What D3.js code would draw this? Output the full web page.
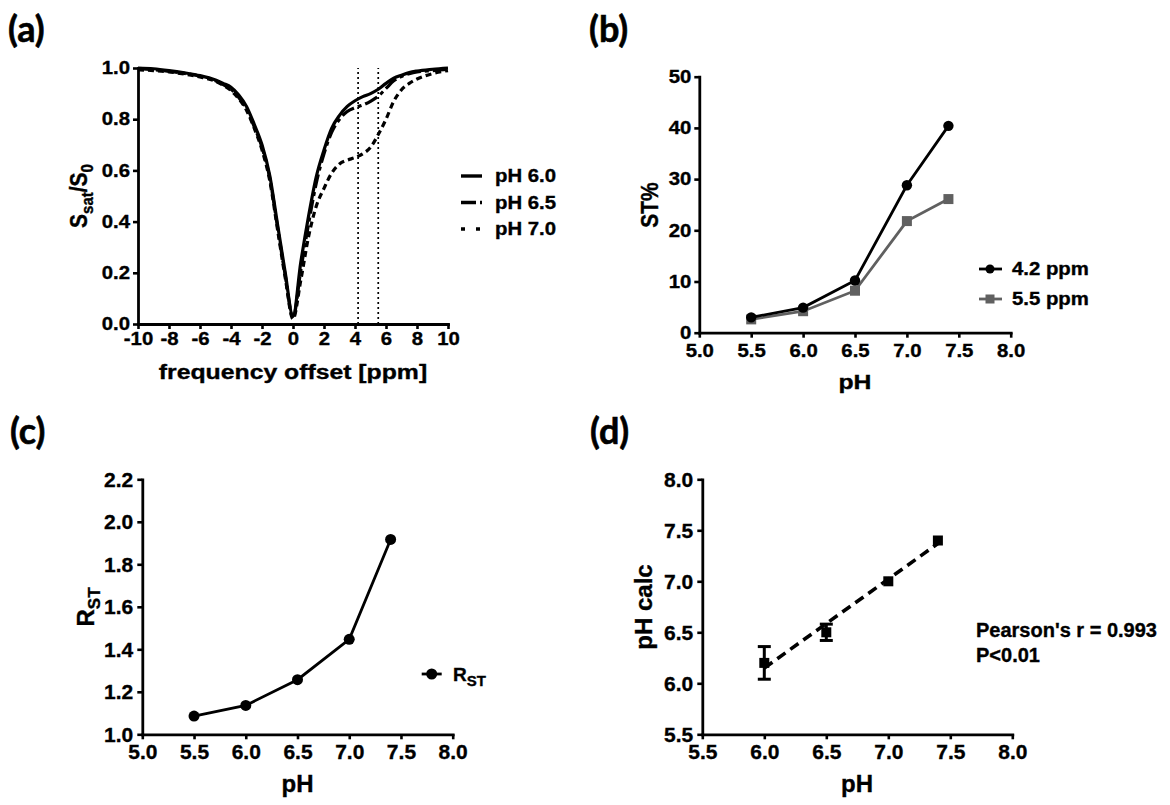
<!DOCTYPE html>
<html>
<head>
<meta charset="utf-8">
<script src="https://cdn.jsdelivr.net/npm/d3@7"></script>
<style>
  html, body { margin: 0; padding: 0; background: #fff; }
  text { paint-order: stroke; stroke: #000; stroke-width: 0.35px; }
</style>
</head>
<body>
<div id="chart"></div>
<script>
// ---------- data ----------

// (a) Z-spectra, S_sat/S_0 vs frequency offset [ppm]
const zOffset = [-10, -9, -8, -7, -6, -5, -4.5, -4, -3.5, -3, -2.5, -2, -1.5, -1, -0.5, 0,
  0.5, 1, 1.5, 2, 2.5, 3, 3.5, 4, 4.5, 5, 5.5, 6, 6.5, 7, 7.5, 8, 9, 10];
const zPH60 = [1.0, 0.997, 0.99, 0.981, 0.97, 0.953, 0.94, 0.925, 0.895, 0.85, 0.78, 0.70, 0.58, 0.39, 0.20, 0.03,
  0.24, 0.42, 0.575, 0.68, 0.765, 0.815, 0.85, 0.872, 0.888, 0.90, 0.917, 0.94, 0.96, 0.972, 0.982, 0.988, 0.995, 1.0];
const zPH65 = [0.997, 0.993, 0.987, 0.979, 0.968, 0.95, 0.935, 0.917, 0.885, 0.84, 0.77, 0.69, 0.57, 0.38, 0.19, 0.025,
  0.21, 0.39, 0.55, 0.665, 0.75, 0.80, 0.83, 0.845, 0.855, 0.87, 0.89, 0.92, 0.95, 0.967, 0.978, 0.985, 0.99, 0.995];
const zPH70 = [0.993, 0.99, 0.985, 0.976, 0.965, 0.948, 0.932, 0.912, 0.88, 0.835, 0.765, 0.68, 0.56, 0.37, 0.18, 0.02,
  0.17, 0.34, 0.46, 0.53, 0.59, 0.625, 0.64, 0.65, 0.665, 0.69, 0.74, 0.80, 0.87, 0.915, 0.94, 0.957, 0.978, 0.99];
const zLabels = ["pH 6.0", "pH 6.5", "pH 7.0"];
const markLines = [4.2, 5.5];

// (b) ST% vs pH
const bPH = [5.5, 6.0, 6.5, 7.0, 7.4];
const st42 = [3.0, 4.9, 10.2, 28.8, 40.4];
const st55 = [2.6, 4.2, 8.2, 21.8, 26.1];
const bLabels = ["4.2 ppm", "5.5 ppm"];

// (c) R_ST vs pH
const cPH = [5.5, 6.0, 6.5, 7.0, 7.4];
const rst = [1.086, 1.136, 1.257, 1.447, 1.917];

// (d) calculated pH vs pH
const dPH = [6.0, 6.5, 7.0, 7.4];
const dCalc = [6.2, 6.5, 7.0, 7.4];
const dErr = [0.16, 0.08, 0.01, 0.02];
const fitEnds = [[6.0, 6.15], [7.4, 7.37]];
const statText = ["Pearson's r = 0.993", "P<0.01"];

// tick values
const aXTicks = [-10, -8, -6, -4, -2, 0, 2, 4, 6, 8, 10];
const aYTicks = [0, 0.2, 0.4, 0.6, 0.8, 1.0];
const phTicks = [5.0, 5.5, 6.0, 6.5, 7.0, 7.5, 8.0];
const bYTicks = [0, 10, 20, 30, 40, 50];
const cYTicks = [1.0, 1.2, 1.4, 1.6, 1.8, 2.0, 2.2];
const dXTicks = [5.5, 6.0, 6.5, 7.0, 7.5, 8.0];
const dYTicks = [5.5, 6.0, 6.5, 7.0, 7.5, 8.0];

// ---------- setup ----------

const FONT = "'Liberation Sans', Arial, sans-serif";
const GRAY = "#606060";
const TOP_S = 1.13; // top row text is drawn a bit wider than tall

const svg = d3.select("#chart").append("svg")
  .attr("width", 1170).attr("height", 805)
  .style("background", "#fff");

const f1 = d3.format(".1f");
const plain = (d) => String(d); // keep ascii hyphen for negatives

// stretch text horizontally, keeping its anchor in place
function widen(sel, s) {
  sel.each(function () {
    const t = d3.select(this);
    const x = +t.attr("x") || 0;
    t.attr("x", x / s).attr("transform", `scale(${s},1)`);
  });
}

function drawAxes(x, y, xTicks, yTicks, fmtX, fmtY, fs, s, padX, padY) {
  const gx = svg.append("g")
    .attr("transform", `translate(0,${y.range()[0]})`)
    .call(d3.axisBottom(x).tickValues(xTicks).tickFormat(fmtX)
      .tickSize(5).tickSizeOuter(0).tickPadding(padX));
  const gy = svg.append("g")
    .attr("transform", `translate(${x.range()[0]},0)`)
    .call(d3.axisLeft(y).tickValues(yTicks).tickFormat(fmtY)
      .tickSize(5).tickSizeOuter(0).tickPadding(padY));

  [gx, gy].forEach((g) => {
    g.attr("font-family", FONT).attr("font-size", fs).attr("font-weight", "bold");
    g.select(".domain").attr("stroke", "#000").attr("stroke-width", 2.8)
      .attr("stroke-linecap", "square");
    g.selectAll(".tick line").attr("stroke", "#000").attr("stroke-width", 2.6);
    g.selectAll(".tick text").attr("fill", "#000");
    if (s !== 1) widen(g.selectAll(".tick text"), s);
  });
}

function panelLabel(txt, x, y) {
  svg.append("text")
    .attr("x", x).attr("y", y)
    .attr("font-family", "Lato, 'Open Sans', sans-serif")
    .attr("font-weight", "bold").attr("font-size", 36)
    .style("stroke-width", "0.6px")
    .text(txt);
}

function xTitle(txt, cx, by, fs, s) {
  const t = svg.append("text")
    .attr("x", cx).attr("y", by)
    .attr("text-anchor", "middle")
    .attr("font-family", FONT).attr("font-weight", "bold").attr("font-size", fs)
    .text(txt);
  if (s !== 1) widen(t, s);
  return t;
}

// rotated title; baseline sits on x = bx
function yTitle(bx, cy, fs, s) {
  return svg.append("text")
    .attr("transform", `translate(${bx},${cy}) scale(${s},1) rotate(-90)`)
    .attr("text-anchor", "middle")
    .attr("font-family", FONT).attr("font-weight", "bold").attr("font-size", fs);
}

function square(g, cx, cy, size, fill) {
  g.append("rect")
    .attr("x", cx - size / 2).attr("y", cy - size / 2)
    .attr("width", size).attr("height", size)
    .attr("fill", fill);
}

// ---------- (a) Z-spectra ----------

const xA = d3.scaleLinear().domain([-10, 10]).range([138, 448]);
const yA = d3.scaleLinear().domain([0, 1]).range([324, 68]);

const zSeries = [zPH60, zPH65, zPH70];
const zDash = [null, "14,4,4,4", "6,4"];
const zLegendDash = [null, "15,4,3,20", "4,11"];

markLines.forEach((m) => {
  svg.append("line")
    .attr("x1", xA(m)).attr("x2", xA(m))
    .attr("y1", yA(0)).attr("y2", yA(1))
    .attr("stroke", "#000").attr("stroke-width", 1.7)
    .attr("stroke-dasharray", "2,3");
});

const lineA = d3.line()
  .x((d) => xA(d[0]))
  .y((d) => yA(d[1]))
  .curve(d3.curveMonotoneX);

zSeries.forEach((vals, i) => {
  svg.append("path")
    .datum(zOffset.map((o, k) => [o, vals[k]]))
    .attr("d", lineA)
    .attr("fill", "none")
    .attr("stroke", "#000")
    .attr("stroke-width", 3.2)
    .attr("stroke-linejoin", "round")
    .attr("stroke-dasharray", zDash[i]);
});

drawAxes(xA, yA, aXTicks, aYTicks, plain, f1, 18, TOP_S, 3, 3);

const legA = svg.append("g");
zLabels.forEach((lab, i) => {
  const cy = 176 + i * 26.5;
  legA.append("line")
    .attr("x1", 461).attr("x2", 482).attr("y1", cy).attr("y2", cy)
    .attr("stroke", "#000").attr("stroke-width", 3.4)
    .attr("stroke-dasharray", zLegendDash[i]);
  const t = legA.append("text")
    .attr("x", 495).attr("y", cy + 6.5)
    .attr("font-family", FONT).attr("font-weight", "bold").attr("font-size", 18)
    .text(lab);
  widen(t, TOP_S);
});

const tA = yTitle(87, 196, 21, TOP_S);
tA.append("tspan").text("S");
tA.append("tspan").attr("font-size", 15).attr("dy", 5).text("sat");
tA.append("tspan").attr("dy", -5).text("/S");
tA.append("tspan").attr("font-size", 15).attr("dy", 5).text("0");

xTitle("frequency offset [ppm]", 293, 379, 21, 1.18);
panelLabel("(a)", 8, 42);

// ---------- (b) ST% ----------

const xB = d3.scaleLinear().domain([5, 8]).range([699.3, 1010.7]);
const yB = d3.scaleLinear().domain([0, 50]).range([332.7, 76.7]);

const lineB = d3.line().x((d) => xB(d[0])).y((d) => yB(d[1]));

const gB = svg.append("g");
gB.append("path")
  .datum(bPH.map((p, k) => [p, st55[k]]))
  .attr("d", lineB).attr("fill", "none")
  .attr("stroke", GRAY).attr("stroke-width", 2.8);
bPH.forEach((p, k) => square(gB, xB(p), yB(st55[k]), 10, GRAY));

gB.append("path")
  .datum(bPH.map((p, k) => [p, st42[k]]))
  .attr("d", lineB).attr("fill", "none")
  .attr("stroke", "#000").attr("stroke-width", 2.8);
gB.selectAll("circle.b42")
  .data(bPH.map((p, k) => [p, st42[k]]))
  .join("circle")
  .attr("class", "b42")
  .attr("cx", (d) => xB(d[0])).attr("cy", (d) => yB(d[1]))
  .attr("r", 5.2).attr("fill", "#000");

drawAxes(xB, yB, phTicks, bYTicks, f1, plain, 18, TOP_S, 7, 3);

const legB = svg.append("g");
bLabels.forEach((lab, i) => {
  const cy = 269 + i * 30;
  const col = i === 0 ? "#000" : GRAY;
  legB.append("line")
    .attr("x1", 979).attr("x2", 1002).attr("y1", cy).attr("y2", cy)
    .attr("stroke", col).attr("stroke-width", 2.8);
  if (i === 0) {
    legB.append("circle").attr("cx", 990).attr("cy", cy).attr("r", 4.5).attr("fill", col);
  } else {
    square(legB, 990, cy, 9, col);
  }
  const t = legB.append("text")
    .attr("x", 1012).attr("y", cy + 6.5)
    .attr("font-family", FONT).attr("font-weight", "bold").attr("font-size", 18)
    .text(lab);
  widen(t, TOP_S);
});

yTitle(658, 205, 21, TOP_S).text("ST%");
xTitle("pH", 855, 389, 21, 1.18);
panelLabel("(b)", 589, 42);

// ---------- (c) R_ST ----------

const xC = d3.scaleLinear().domain([5, 8]).range([142.3, 452.7]);
const yC = d3.scaleLinear().domain([1, 2.2]).range([734.3, 479.3]);

const gC = svg.append("g");
gC.append("path")
  .datum(cPH.map((p, k) => [p, rst[k]]))
  .attr("d", d3.line().x((d) => xC(d[0])).y((d) => yC(d[1])))
  .attr("fill", "none").attr("stroke", "#000").attr("stroke-width", 2.8);
gC.selectAll("circle")
  .data(cPH.map((p, k) => [p, rst[k]]))
  .join("circle")
  .attr("cx", (d) => xC(d[0])).attr("cy", (d) => yC(d[1]))
  .attr("r", 5.5).attr("fill", "#000");

drawAxes(xC, yC, phTicks, cYTicks, f1, f1, 21, 1, 4.5, 4);

svg.append("line")
  .attr("x1", 421.7).attr("x2", 441.7).attr("y1", 674).attr("y2", 674)
  .attr("stroke", "#000").attr("stroke-width", 2.8);
svg.append("circle").attr("cx", 431.7).attr("cy", 674).attr("r", 5.5).attr("fill", "#000");
const legC = svg.append("text")
  .attr("x", 453).attr("y", 681)
  .attr("font-family", FONT).attr("font-weight", "bold").attr("font-size", 19);
legC.append("tspan").text("R");
legC.append("tspan").attr("font-size", 15).attr("dy", 5).text("ST");

const tC = yTitle(94, 607, 24, 1);
tC.append("tspan").text("R");
tC.append("tspan").attr("font-size", 17).attr("dy", 6).text("ST");

xTitle("pH", 297.5, 792, 24, 1);
panelLabel("(c)", 10, 444);

// ---------- (d) calculated pH ----------

const xD = d3.scaleLinear().domain([5.5, 8]).range([702.3, 1012.3]);
const yD = d3.scaleLinear().domain([5.5, 8]).range([734.3, 479.3]);

const gD = svg.append("g");
gD.append("line")
  .attr("x1", xD(fitEnds[0][0])).attr("y1", yD(fitEnds[0][1]))
  .attr("x2", xD(fitEnds[1][0])).attr("y2", yD(fitEnds[1][1]))
  .attr("stroke", "#000").attr("stroke-width", 3.6)
  .attr("stroke-dasharray", "10,6");

dPH.forEach((p, k) => {
  const cx = xD(p);
  const lo = yD(dCalc[k] - dErr[k]);
  const hi = yD(dCalc[k] + dErr[k]);
  if (dErr[k] > 0.03) {
    gD.append("line").attr("x1", cx).attr("x2", cx).attr("y1", lo).attr("y2", hi)
      .attr("stroke", "#000").attr("stroke-width", 3);
    [lo, hi].forEach((yy) => {
      gD.append("line").attr("x1", cx - 6.5).attr("x2", cx + 6.5).attr("y1", yy).attr("y2", yy)
        .attr("stroke", "#000").attr("stroke-width", 3);
    });
  }
  square(gD, cx, yD(dCalc[k]), 10, "#000");
});

drawAxes(xD, yD, dXTicks, dYTicks, f1, f1, 21, 1, 4.5, 4);

statText.forEach((s, i) => {
  svg.append("text")
    .attr("x", 976).attr("y", 637 + i * 25)
    .attr("font-family", FONT).attr("font-weight", "bold").attr("font-size", 20)
    .text(s);
});

yTitle(652, 607, 24, 1).text("pH calc");
xTitle("pH", 857, 792, 24, 1);
panelLabel("(d)", 590, 444);
</script>
</body>
</html>
